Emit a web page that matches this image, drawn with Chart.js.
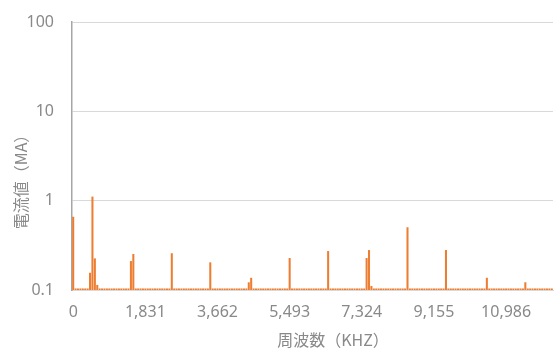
<!DOCTYPE html>
<html>
<head>
<meta charset="utf-8">
<script src="https://cdn.jsdelivr.net/npm/chart.js@4"></script>
<style>
  html, body { margin: 0; padding: 0; background: #fff; }
  #wrap { position: relative; width: 559px; height: 351px; }
</style>
</head>
<body>
<div id="wrap"><canvas id="chart"></canvas></div>
<script>
// FFT bins: 16384-point transform at 1 MHz -> 61.035 Hz per bin
const BIN_HZ = 1e6 / 16384;
const BIN_COUNT = 200;
const binLabels = Array.from({ length: BIN_COUNT }, (_, i) => Math.round(i * BIN_HZ).toLocaleString('en-US'));

// current per bin (mA), noise floor ~0.104
const currentMA = [
  0.66, 0.104, 0.104, 0.104, 0.104, 0.104, 0.104, 0.156, 1.11, 0.226,
  0.114, 0.104, 0.104, 0.104, 0.104, 0.104, 0.104, 0.104, 0.104, 0.104,
  0.104, 0.104, 0.104, 0.104, 0.211, 0.253, 0.104, 0.104, 0.104, 0.104,
  0.104, 0.104, 0.104, 0.104, 0.104, 0.104, 0.104, 0.104, 0.104, 0.104,
  0.104, 0.258, 0.104, 0.104, 0.104, 0.104, 0.104, 0.104, 0.104, 0.104,
  0.104, 0.104, 0.104, 0.104, 0.104, 0.104, 0.104, 0.204, 0.104, 0.104,
  0.104, 0.104, 0.104, 0.104, 0.104, 0.104, 0.104, 0.104, 0.104, 0.104,
  0.104, 0.104, 0.104, 0.122, 0.137, 0.104, 0.104, 0.104, 0.104, 0.104,
  0.104, 0.104, 0.104, 0.104, 0.104, 0.104, 0.104, 0.104, 0.104, 0.104,
  0.228, 0.104, 0.104, 0.104, 0.104, 0.104, 0.104, 0.104, 0.104, 0.104,
  0.104, 0.104, 0.104, 0.104, 0.104, 0.104, 0.273, 0.104, 0.104, 0.104,
  0.104, 0.104, 0.104, 0.104, 0.104, 0.104, 0.104, 0.104, 0.104, 0.104,
  0.104, 0.104, 0.228, 0.280, 0.111, 0.104, 0.104, 0.104, 0.104, 0.104,
  0.104, 0.104, 0.104, 0.104, 0.104, 0.104, 0.104, 0.104, 0.104, 0.504,
  0.104, 0.104, 0.104, 0.104, 0.104, 0.104, 0.104, 0.104, 0.104, 0.104,
  0.104, 0.104, 0.104, 0.104, 0.104, 0.280, 0.104, 0.104, 0.104, 0.104,
  0.104, 0.104, 0.104, 0.104, 0.104, 0.104, 0.104, 0.104, 0.104, 0.104,
  0.104, 0.104, 0.137, 0.104, 0.104, 0.104, 0.104, 0.104, 0.104, 0.104,
  0.104, 0.104, 0.104, 0.104, 0.104, 0.104, 0.104, 0.104, 0.122, 0.104,
  0.104, 0.104, 0.104, 0.104, 0.104, 0.104, 0.104, 0.104, 0.104, 0.104,
];

const yTickValues = [0.1, 1, 10, 100];
const xTickLabels = ['0', '1,831', '3,662', '5,493', '7,324', '9,155', '10,986'];
const X_LABEL_EVERY = 30;

const TEXT_COLOR = '#898989';
const tickFont = { family: "'Noto Sans', sans-serif", size: 16 };
const titleFont = "16px 'Noto Sans CJK JP', sans-serif";

// keep the plot box fixed: no extra room for overhanging tick labels
const noLabelMargins = (s) => {
  s.paddingTop = 0;
  s.paddingBottom = 0;
  s.paddingLeft = 0;
  s.paddingRight = 0;
};

// axis titles drawn at fixed spots
const axisTitles = {
  id: 'axisTitles',
  afterDraw(chart) {
    const ctx = chart.ctx;
    ctx.save();
    ctx.fillStyle = TEXT_COLOR;
    ctx.font = titleFont;
    ctx.textAlign = 'center';
    ctx.textBaseline = 'middle';
    ctx.fillText('周波数（KHZ）', 333, 340);
    ctx.translate(21, 178);
    ctx.rotate(-Math.PI / 2);
    ctx.fillText('電流値（MA）', 0, 0);
    ctx.restore();
  },
};

new Chart(document.getElementById('chart'), {
  type: 'bar',
  data: {
    labels: binLabels,
    datasets: [{
      data: currentMA,
      backgroundColor: '#ED7D31',
      borderWidth: 0,
      barPercentage: 0.85,
      categoryPercentage: 1,
    }],
  },
  options: {
    responsive: true,
    maintainAspectRatio: false,
    animation: false,
    layout: { padding: { top: 22, right: 6, left: 0, bottom: 0 } },
    plugins: {
      legend: { display: false },
      tooltip: { enabled: false },
    },
    scales: {
      x: {
        grid: { color: 'transparent', drawTicks: false },
        border: { color: '#d9d9d9', width: 1 },
        ticks: {
          autoSkip: false,
          maxRotation: 0,
          padding: 13,
          color: TEXT_COLOR,
          font: tickFont,
          callback: (v, i) => (i % X_LABEL_EVERY === 0 ? xTickLabels[i / X_LABEL_EVERY] : ''),
        },
        afterFit: (s) => { s.height = 61; noLabelMargins(s); },
      },
      y: {
        type: 'logarithmic',
        min: 0.1,
        max: 100,
        afterBuildTicks: (s) => { s.ticks = yTickValues.map((v) => ({ value: v })); },
        grid: { color: '#d9d9d9', drawTicks: false },
        border: { color: '#a6a6a6', width: 1.5 },
        ticks: {
          padding: 18,
          color: TEXT_COLOR,
          font: tickFont,
          callback: (v) => String(v),
        },
        afterFit: (s) => { s.width = 72; noLabelMargins(s); },
      },
    },
  },
  plugins: [axisTitles],
});
</script>
</body>
</html>
